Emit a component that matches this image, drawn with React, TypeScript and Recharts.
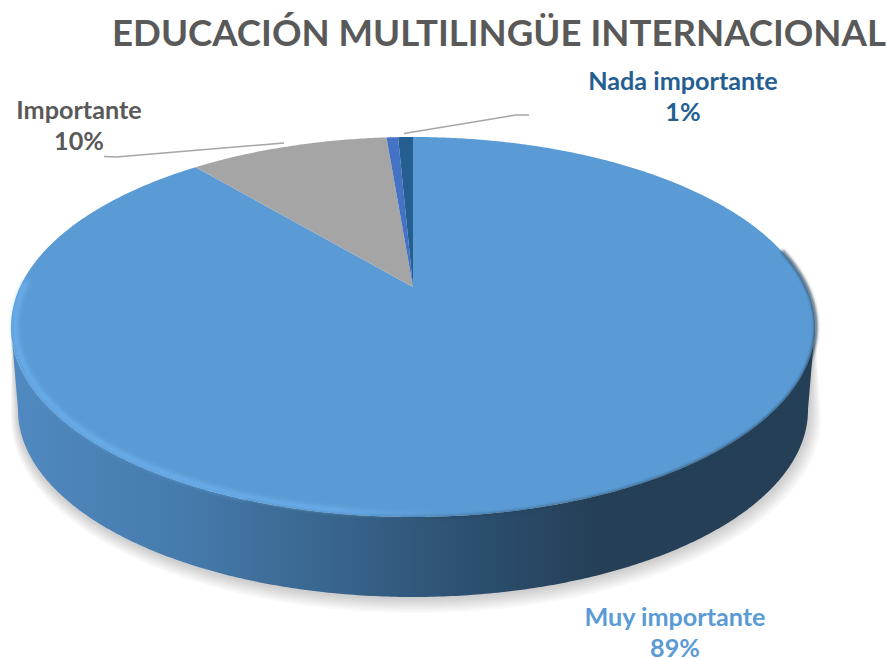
import { PieChart, Pie, Cell } from 'recharts';

const names = ['Muy importante', 'Importante', 'Poco importante', 'Nada importante'];
const values = [88.9, 9.8, 0.57, 0.73];
const colors = ['#5b9bd5', '#a5a5a5', '#4472c4', '#255e91'];
const labelColors = ['#5b9bd5', '#595959', '#4472c4', '#255e91'];

const data = names.map((name, i) => ({ name, value: values[i] }));

const WIDTH = 888;
const HEIGHT = 659;

// top face and base of the disc, seen in perspective
const face = { cx: 413, cy: 327, rx: 402, ry: 190 };
const base = { cx: 413, cy: 410, rx: 395, ry: 187 };
const shadowLayers = [1, 0.86, 0.72, 0.58, 0.44, 0.3, 0.16];
const tilt = 0.21;
const frontFrom = 102;
const frontTo = 258;

// where each data label and its leader go
const labelSpots: Record<string, { x: number; y: number; line?: string }> = {
  'Muy importante': { x: 675, y: 626 },
  Importante: { x: 79, y: 119, line: '104,156.5 116,157 284,143' },
  'Nada importante': { x: 683, y: 90, line: '404,133.5 516,115 529,115' },
};

type Ellipse = typeof face;

// phi runs clockwise from the top of the disc, in degrees
const project = (e: Ellipse, phi: number, scale = 1) => {
  const rad = (phi * Math.PI) / 180;
  const u = Math.sin(rad) * scale;
  const v = -Math.cos(rad) * scale;
  const d = 1 - tilt * v;
  return {
    x: e.cx + (e.rx * Math.sqrt(1 - tilt * tilt) * u) / d,
    y: e.cy + (e.ry * (v - tilt)) / d,
  };
};

const arc = (e: Ellipse, from: number, to: number, scale = 1) => {
  const steps = Math.max(2, Math.ceil(Math.abs(to - from) * 2));
  const pts: string[] = [];
  for (let i = 0; i <= steps; i++) {
    const p = project(e, from + ((to - from) * i) / steps, scale);
    pts.push(`${p.x.toFixed(2)} ${p.y.toFixed(2)}`);
  }
  return pts;
};

const linePath = (pts: string[]) => 'M' + pts.join('L');

const FaceSlice = (props: any) => {
  const from = 90 - props.startAngle;
  const to = 90 - props.endAngle;
  const apex = project(face, 0, 0);
  const d = `M${apex.x} ${apex.y}L` + arc(face, from, to).join('L') + 'Z';
  return (
    <g>
      <path d={d} fill={props.fill} />
      {props.index === 0 && (
        <g fill="none">
          <path
            d={linePath(arc(face, 78, 200, 1.002))}
            stroke="url(#rimDark)"
            strokeWidth={3}
            filter="url(#blur2)"
          />
          <path
            d={linePath(arc(face, 170, 272, 0.99))}
            stroke="url(#rimLight)"
            strokeWidth={4}
            filter="url(#blur3)"
          />
        </g>
      )}
    </g>
  );
};

// side of the disc with its soft shadow below it
const WallSlice = (props: any) => {
  const from = Math.max(90 - props.startAngle, frontFrom);
  const to = Math.min(90 - props.endAngle, frontTo);
  if (to <= from) return <g />;
  const d = 'M' + arc(face, from, to).join('L') + 'L' + arc(base, to, from).join('L') + 'Z';
  return (
    <g>
      {shadowLayers.map((t) => {
        const layer = {
          cx: base.cx + 3 * t,
          cy: base.cy + 8 * t,
          rx: base.rx + 10 * t,
          ry: base.ry + 8 * t,
        };
        const shade = 'M' + arc(face, from, to).join('L') + 'L' + arc(layer, to, from).join('L') + 'Z';
        return <path key={t} d={shade} fill="#000" fillOpacity={0.028} />;
      })}
      <path d={d} fill="url(#wall)" />
    </g>
  );
};

const renderLabel = (props: any) => {
  const spot = labelSpots[props.name];
  if (!spot) return <g />;
  return (
    <g>
      {spot.line && <polyline points={spot.line} fill="none" stroke="#a6a6a6" strokeWidth={1.5} />}
      <text
        x={spot.x}
        textAnchor="middle"
        fontFamily="Lato"
        fontWeight={700}
        fontSize={25.2}
        fill={labelColors[props.index]}
      >
        <tspan x={spot.x} y={spot.y}>
          {props.name}
        </tspan>
        <tspan x={spot.x} y={spot.y + 31}>
          {Math.round(props.value)}%
        </tspan>
      </text>
    </g>
  );
};

export default function App() {
  return (
    <div style={{ position: 'absolute', left: 0, top: 0, width: WIDTH, height: HEIGHT, background: '#fff' }}>
      <PieChart width={WIDTH} height={HEIGHT} margin={{ top: 0, right: 0, bottom: 0, left: 0 }}>
        <defs>
          <linearGradient id="wall" gradientUnits="userSpaceOnUse" x1={15} y1={0} x2={600} y2={0}>
            <stop offset="0" stopColor="#5089c0" />
            <stop offset="0.3" stopColor="#457aab" />
            <stop offset="0.55" stopColor="#38648c" />
            <stop offset="0.8" stopColor="#2b4e6e" />
            <stop offset="1" stopColor="#243f56" />
          </linearGradient>
          <linearGradient id="rimLight" gradientUnits="userSpaceOnUse" x1={10} y1={0} x2={440} y2={0}>
            <stop offset="0" stopColor="#6fb5f4" />
            <stop offset="0.75" stopColor="#6fb5f4" />
            <stop offset="1" stopColor="#6fb5f4" stopOpacity={0} />
          </linearGradient>
          <linearGradient id="rimDark" gradientUnits="userSpaceOnUse" x1={380} y1={0} x2={815} y2={0}>
            <stop offset="0" stopColor="#243f56" stopOpacity={0.3} />
            <stop offset="1" stopColor="#243f56" stopOpacity={0.9} />
          </linearGradient>
          <filter id="blur2" filterUnits="userSpaceOnUse" x={0} y={0} width={WIDTH} height={HEIGHT}>
            <feGaussianBlur stdDeviation={1.5} />
          </filter>
          <filter id="blur3" filterUnits="userSpaceOnUse" x={0} y={0} width={WIDTH} height={HEIGHT}>
            <feGaussianBlur stdDeviation={2.4} />
          </filter>
        </defs>
        <Pie
          data={data}
          dataKey="value"
          cx={face.cx}
          cy={face.cy}
          outerRadius={face.rx}
          startAngle={90}
          endAngle={-270}
          stroke="none"
          isAnimationActive={false}
          shape={WallSlice}
          inactiveShape={WallSlice}
        />
        <Pie
          data={data}
          dataKey="value"
          cx={face.cx}
          cy={face.cy}
          outerRadius={face.rx}
          startAngle={90}
          endAngle={-270}
          stroke="none"
          isAnimationActive={false}
          shape={FaceSlice}
          inactiveShape={FaceSlice}
          label={renderLabel}
          labelLine={false}
        >
          {names.map((name, i) => (
            <Cell key={name} fill={colors[i]} />
          ))}
        </Pie>
        <text x={499} y={46} textAnchor="middle" fontFamily="Lato" fontWeight={700} fontSize={36.6} fill="#595959">
          EDUCACIÓN MULTILINGÜE INTERNACIONAL
        </text>
      </PieChart>
    </div>
  );
}
